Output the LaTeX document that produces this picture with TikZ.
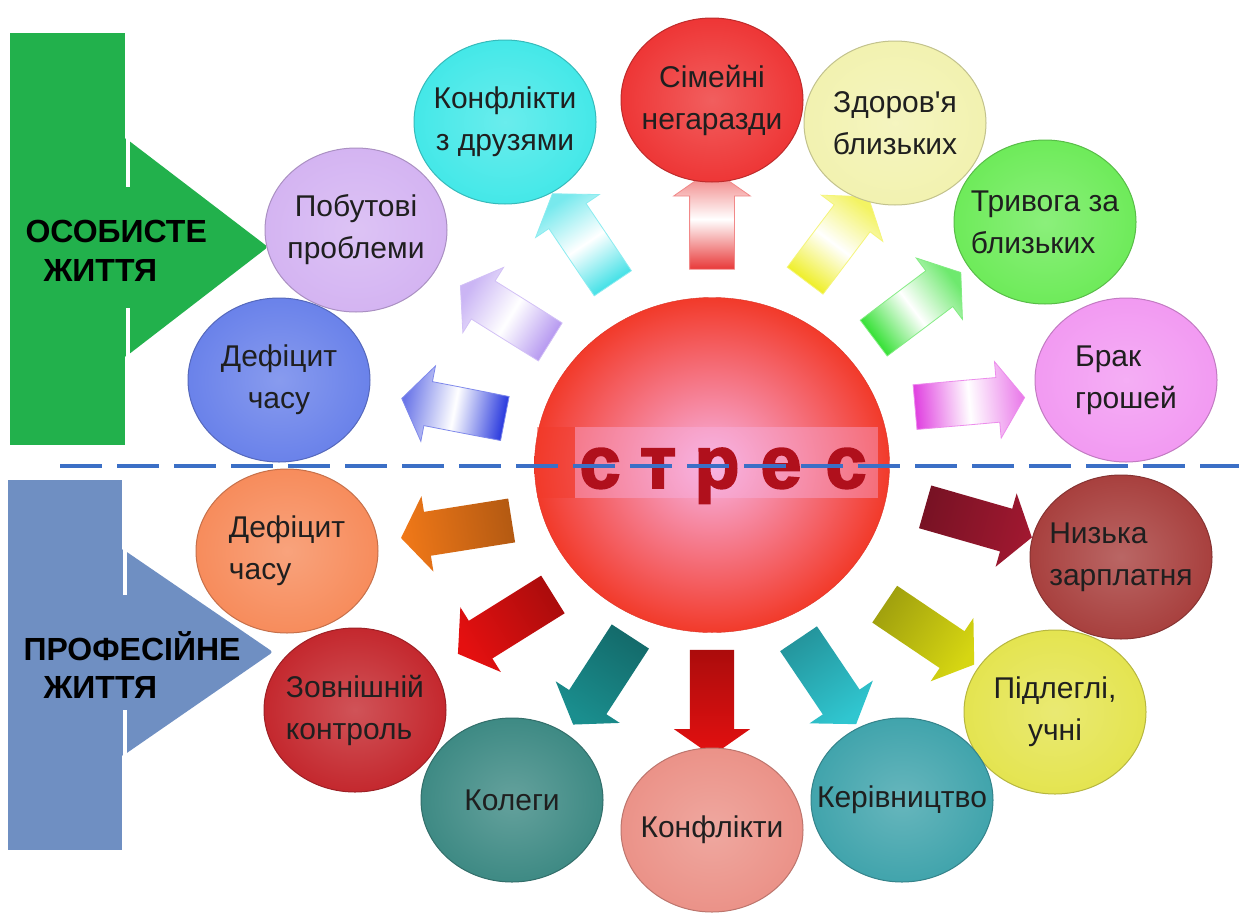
\documentclass[tikz,border=0pt]{standalone}
\usepackage{fontspec}
\setmainfont{Liberation Sans}[Ligatures=TeXOff]
\newfontfamily\stressfont{Liberation Sans}[BoldFeatures={FakeBold=2.5}]
\usetikzlibrary{shapes.geometric,shapes.arrows}

% block colours
\definecolor{lifegreen}{HTML}{22B14C}
\definecolor{workblue}{HTML}{6F8FC2}
\definecolor{divider}{HTML}{3B6FC6}
\definecolor{stressred}{HTML}{F23A2A}
\definecolor{stresspink}{HTML}{F8B4E4}
\definecolor{stressink}{HTML}{B0101C}
% bubble colours
\definecolor{bRed}{HTML}{EE3636}
\definecolor{bCyan}{HTML}{44E8E8}
\definecolor{bPale}{HTML}{F2F2B0}
\definecolor{bLilac}{HTML}{D4B4F2}
\definecolor{bLime}{HTML}{6EEB5A}
\definecolor{bBlue}{HTML}{6A82EA}
\definecolor{bPink}{HTML}{F29AF2}
\definecolor{bOrange}{HTML}{F78C5C}
\definecolor{bBrown}{HTML}{A8403E}
\definecolor{bCrimson}{HTML}{C4282E}
\definecolor{bOlive}{HTML}{E4E450}
\definecolor{bTeal}{HTML}{3E8A84}
\definecolor{bSalmon}{HTML}{EB9288}
\definecolor{bSea}{HTML}{41A4AC}
% arrow colours
\definecolor{aRed}{HTML}{E83838}
\definecolor{aCyan}{HTML}{3EE0E6}
\definecolor{aLilac}{HTML}{B496F0}
\definecolor{aBlue}{HTML}{2A3ADE}
\definecolor{aYellow}{HTML}{EEEE20}
\definecolor{aGreen}{HTML}{30E030}
\definecolor{aPink}{HTML}{E040E0}
\definecolor{aOrange}{HTML}{F07818}
\definecolor{aScarlet}{HTML}{E41010}
\definecolor{aTeal}{HTML}{1A8E8E}
\definecolor{aAqua}{HTML}{30C6D0}
\definecolor{aOlive}{HTML}{D6D612}
\definecolor{aWine}{HTML}{A01830}

\tikzset{
  bubble/.style={ellipse, minimum width=182pt, minimum height=164pt, inner sep=-25pt,
    draw=#1!80!black, line width=1pt, inner color=#1!80!white, outer color=#1,
    align=center, text=black!88, font=\fontsize{30}{42}\selectfont},
  arrowbase/.style={single arrow, single arrow head extend=16pt,
    single arrow tip angle=110, inner xsep=0pt, inner ysep=22pt},
  softarrow/.style={arrowbase, draw=#1!60!white, line width=0.8pt,
    left color=#1, right color=#1!70!white, middle color=white},
  hardarrow/.style={arrowbase, left color=#1!75!black, right color=#1},
  sidetext/.style={anchor=base west, font=\fontsize{32}{32}\selectfont\bfseries},
}

\begin{document}
\begin{tikzpicture}[x=1pt, y=-1pt]
\useasboundingbox[fill=white] (0,0) rectangle (1239,921);

% left blocks
\fill[lifegreen] (10,33) rectangle (125,445);
\fill[lifegreen, rounded corners=3pt] (124,137) -- (268,247) -- (124,358) -- cycle;
\draw[white, line width=4pt] (127.5,137) -- (127.5,187) (127.5,308) -- (127.5,358);
\node[sidetext] (personal) at (22,242) {ОСОБИСТЕ};
\node[sidetext] (personal2) at (40,281) {ЖИТТЯ};

\fill[workblue] (8,480) rectangle (122,850);
\fill[workblue, rounded corners=3pt] (121,548) -- (273,652) -- (121,757) -- cycle;
\draw[white, line width=4pt] (124.5,548) -- (124.5,595) (124.5,710) -- (124.5,757);
\node[sidetext] (work) at (20,660) {ПРОФЕСІЙНЕ};
\node[sidetext] (work2) at (40,698) {ЖИТТЯ};

% centre
\node[ellipse, minimum width=355pt, minimum height=335pt, inner sep=0pt,
  draw=stressred!90!black, inner color=stresspink, outer color=stressred] (stress) at (712,465) {};
\fill[stressred, opacity=0.45] (537,427) rectangle (575,498);
\fill[stresspink, opacity=0.4] (575,427) rectangle (878,498);
\foreach \x/\ch [count=\i] in {600/с,658/т,717/р,781/е,846/с}
  \node[anchor=base, text=stressink, font=\fontsize{74}{74}\stressfont\bfseries]
    (s\i) at (\x,488) {\ch};

% arrows out of the centre (shading turned to run tail -> tip)
\foreach \x/\y/\a/\l/\c [count=\i, evaluate=\a as \sa using \a+90] in {
    712/227/90/100/aRed, 587/245/124/108/aCyan, 512/318/148/106/aLilac,
    461/410/169/105/aBlue, 832/245/53/105/aYellow, 911/310/37/109/aGreen,
    962/403/5/110/aPink}
  \node[softarrow=\c, shading angle=\sa, minimum height=\l pt, rotate=\a] (up\i) at (\x,\y) {};
\foreach \x/\y/\a/\l/\c [count=\i, evaluate=\a as \sa using \a+90] in {
    464/528/189/112/aOrange, 512/620/212/112/aScarlet, 606/674/237/105/aTeal,
    712/695/270/106/aScarlet, 823/675/304/103/aAqua, 923/630/326/108/aOlive,
    971/520/344/111/aWine}
  \node[hardarrow=\c, shading angle=\sa, minimum height=\l pt, rotate=\a] (down\i) at (\x,\y) {};

% personal life
\node[bubble=bRed] (family) at (712,100) {Сімейні\\негаразди};
\node[bubble=bCyan] (friends) at (505,122) {Конфлікти\\з друзями};
\node[bubble=bPale] (health) at (895,123) {Здоров'я\\близьких};
\node[bubble=bLilac] (home) at (356,230) {Побутові\\проблеми};
\node[bubble=bLime, align=left] (worry) at (1045,222) {Тривога за\\близьких};
\node[bubble=bBlue] (time1) at (279,380) {Дефіцит\\часу};
\node[bubble=bPink, align=left] (money) at (1126,380) {Брак\\грошей};

% working life
\node[bubble=bOrange, align=left] (time2) at (287,551) {Дефіцит\\часу};
\node[bubble=bBrown, align=left] (salary) at (1121,557) {Низька\\зарплатня};
\node[bubble=bCrimson, align=left] (control) at (355,710) {Зовнішній\\контроль};
\node[bubble=bOlive] (pupils) at (1055,712) {Підлеглі,\\учні};
\node[bubble=bTeal] (colleagues) at (512,800) {Колеги};
\node[bubble=bSalmon] (conflicts) at (712,830) {Конфлікти};
\node[bubble=bSea] (bosses) at (902,800) {Керівництво};

% divider
\coordinate (divL) at (60,466);
\coordinate (divR) at (1239,466);
\draw[divider, line width=3.5pt, dash pattern=on 42pt off 15pt] (divL) -- (divR);
\end{tikzpicture}
\end{document}
